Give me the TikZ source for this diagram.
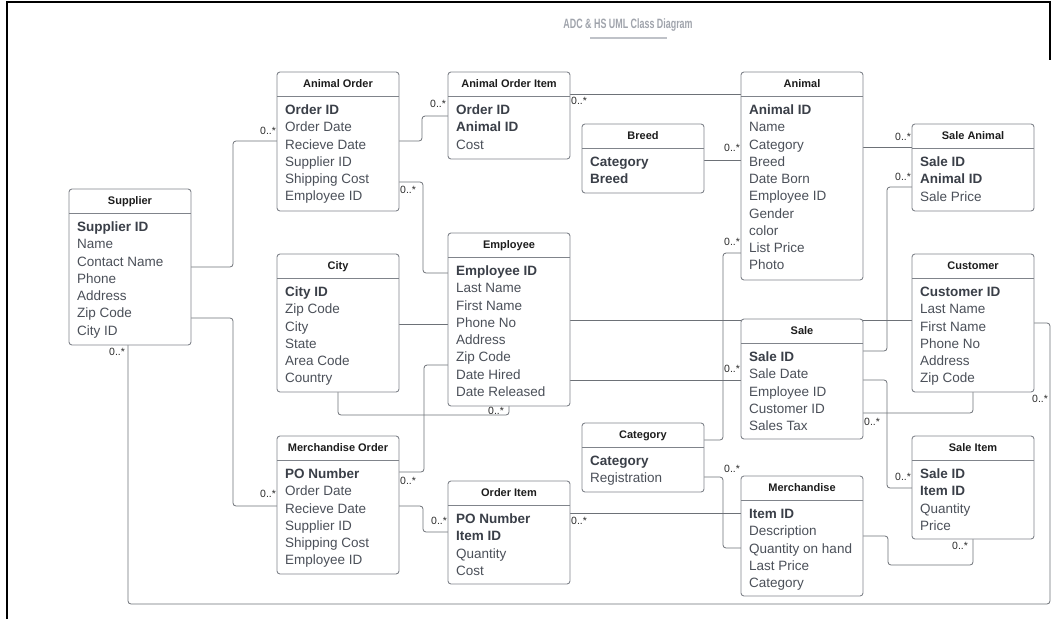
\documentclass[tikz,border=0pt]{standalone}
\usepackage{fontspec}
\setmainfont{Liberation Sans}
\newfontfamily\ttlfont[FakeStretch=0.66]{Liberation Sans}
\pgfdeclarelayer{bg}
\pgfsetlayers{bg,main}
\definecolor{boxc}{HTML}{80848B}
\definecolor{linec}{HTML}{6D7177}
\definecolor{rowc}{HTML}{4B5059}
\definecolor{rowbc}{HTML}{3A3F48}
\definecolor{hdrc}{HTML}{1D1D1D}
\definecolor{titlec}{HTML}{A0A4AC}
\definecolor{ulc}{HTML}{BFC2C8}
\definecolor{lblc}{HTML}{2A2A2A}
\newcommand{\clsB}{\bfseries\color{rowbc}}
\newcommand{\clsN}{}
\newcommand{\umlclass}[7]{%
  \node[classbox, minimum width={(#4-#2)*1pt}, minimum height={(#5-#3)*1pt}, anchor=north west] (#1) at (#2,#3) {};
  \draw[boxline] (#2,#3+24) -- (#4,#3+24);
  \node[hdr] (#1-title) at ({(#2+#4)/2},#3+12) {#6};
  \foreach \st/\tx [count=\i] in {#7} {
    \node[rowtxt] (#1-r\i) at (#2+8,#3+24+18.5+\i*17.25-17.25) {\st\tx};
  }%
}
\begin{document}
\begin{tikzpicture}[x=1pt,y=-1pt,
  classbox/.style={draw=boxc, fill=white, rounded corners=3pt, line width=0.9pt, inner sep=0pt, outer sep=0pt},
  boxline/.style={draw=boxc, line width=0.9pt},
  hdr/.style={font=\bfseries\fontsize{11}{13}\selectfont, text=hdrc, inner sep=0pt, text height=7.9pt, text depth=0pt, anchor=center},
  rowtxt/.style={font=\fontsize{13.5}{16}\selectfont, text=rowc, inner sep=0pt, anchor=base west},
  conn/.style={draw=linec, line width=0.8pt, rounded corners=3pt},
  lbl/.style={font=\fontsize{10.5}{12}\selectfont, text=lblc, inner sep=0pt, text height=7.5pt, text depth=0pt, anchor=west},
  ttl/.style={font=\ttlfont\bfseries\fontsize{13.5}{16}\selectfont, text=titlec, inner sep=0pt, text height=9.7pt, text depth=0pt, anchor=center}
]
\useasboundingbox (0,0) rectangle (1052,619);
% frame
\draw[black, line width=2pt] (7,619) -- (7,2) -- (1050,2) -- (1050,60);
% title
\node[ttl] (title) at (628,24) {ADC \& HS UML Class Diagram};
\coordinate (ul1) at (590,38);
\coordinate (ul2) at (667,38);
\draw[ulc, line width=2.5pt] (ul1) -- (ul2);

\umlclass{sup}{69}{189}{191}{345}{Supplier}{\clsB/Supplier ID,\clsN/Name,\clsN/Contact Name,\clsN/Phone,\clsN/Address,\clsN/Zip Code,\clsN/City ID}
\umlclass{ao}{277}{72}{399}{211}{Animal Order}{\clsB/Order ID,\clsN/Order Date,\clsN/Recieve Date,\clsN/Supplier ID,\clsN/Shipping Cost,\clsN/Employee ID}
\umlclass{aoi}{448}{72}{570}{159}{Animal Order Item}{\clsB/Order ID,\clsB/Animal ID,\clsN/Cost}
\umlclass{br}{582}{124}{704}{193}{Breed}{\clsB/Category,\clsB/Breed}
\umlclass{an}{741}{72}{863}{280}{Animal}{\clsB/Animal ID,\clsN/Name,\clsN/Category,\clsN/Breed,\clsN/Date Born,\clsN/Employee ID,\clsN/Gender,\clsN/color,\clsN/List Price,\clsN/Photo}
\umlclass{sa}{912}{124}{1034}{211}{Sale Animal}{\clsB/Sale ID,\clsB/Animal ID,\clsN/Sale Price}
\umlclass{cus}{912}{254}{1034}{392}{Customer}{\clsB/Customer ID,\clsN/Last Name,\clsN/First Name,\clsN/Phone No,\clsN/Address,\clsN/Zip Code}
\umlclass{emp}{448}{233}{570}{406}{Employee}{\clsB/Employee ID,\clsN/Last Name,\clsN/First Name,\clsN/Phone No,\clsN/Address,\clsN/Zip Code,\clsN/Date Hired,\clsN/Date Released}
\umlclass{city}{277}{254}{399}{392}{City}{\clsB/City ID,\clsN/Zip Code,\clsN/City,\clsN/State,\clsN/Area Code,\clsN/Country}
\umlclass{sale}{741}{319}{863}{439}{Sale}{\clsB/Sale ID,\clsN/Sale Date,\clsN/Employee ID,\clsN/Customer ID,\clsN/Sales Tax}
\umlclass{cat}{582}{423}{704}{492}{Category}{\clsB/Category,\clsN/Registration}
\umlclass{merch}{741}{476}{863}{596}{Merchandise}{\clsB/Item ID,\clsN/Description,\clsN/Quantity on hand,\clsN/Last Price,\clsN/Category}
\umlclass{si}{912}{436}{1034}{539}{Sale Item}{\clsB/Sale ID,\clsB/Item ID,\clsN/Quantity,\clsN/Price}
\umlclass{mo}{277}{436}{399}{574}{Merchandise Order}{\clsB/PO Number,\clsN/Order Date,\clsN/Recieve Date,\clsN/Supplier ID,\clsN/Shipping Cost,\clsN/Employee ID}
\umlclass{oi}{448}{481}{570}{584}{Order Item}{\clsB/PO Number,\clsB/Item ID,\clsN/Quantity,\clsN/Cost}

\begin{pgfonlayer}{bg}
\draw[conn] (sup.east |- 0,267) -- (233,267) |- (ao.west |- 0,141);
\draw[conn] (sup.east |- 0,318) -- (233,318) |- (mo.west |- 0,506);
\draw[conn] (sup.south -| 128,0) -- (128,604) -- (1050,604) |- (cus.east |- 0,323);
\draw[conn] (ao.east |- 0,141) -- (422,141) |- (aoi.west |- 0,116);
\draw[conn] (ao.east |- 0,182) -- (423,182) |- (emp.west |- 0,273);
\draw[conn] (aoi.east |- 0,94) -- (an.west |- 0,94);
\draw[conn] (br.east |- 0,160) -- (an.west |- 0,160);
\draw[conn] (an.east |- 0,147) -- (sa.west |- 0,147);
\draw[conn] (sale.east |- 0,351) -- (887,351) |- (sa.west |- 0,187);
\draw[conn] (emp.east |- 0,320) -- (cus.west |- 0,320);
\draw[conn] (emp.east |- 0,380) -- (sale.west |- 0,380);
\draw[conn] (city.east |- 0,324) -- (emp.west |- 0,324);
\draw[conn] (city.south -| 338,0) -- (338,415) -| (emp.south -| 509,0);
\draw[conn] (mo.east |- 0,472) -- (424,472) |- (emp.west |- 0,365);
\draw[conn] (mo.east |- 0,506) -- (423,506) |- (oi.west |- 0,532);
\draw[conn] (oi.east |- 0,513) -- (merch.west |- 0,513);
\draw[conn] (cat.east |- 0,440) -- (723,440) |- (an.west |- 0,253);
\draw[conn] (cat.east |- 0,477) -- (723,477) |- (merch.west |- 0,548);
\draw[conn] (sale.east |- 0,413) -| (cus.south -| 973,0);
\draw[conn] (sale.east |- 0,380) -- (887,380) |- (si.west |- 0,488);
\draw[conn] (merch.east |- 0,536) -- (888,536) -- (888,565) -| (si.south -| 973,0);
\end{pgfonlayer}

% multiplicity labels
\node[lbl] (l1) at (260,131) {0..*};
\node[lbl] (l2) at (109,352) {0..*};
\node[lbl] (l3) at (260,494) {0..*};
\node[lbl] (l4) at (430,104) {0..*};
\node[lbl] (l5) at (400,190) {0..*};
\node[lbl] (l6) at (571,101) {0..*};
\node[lbl] (l7) at (724,148) {0..*};
\node[lbl] (l8) at (895,137) {0..*};
\node[lbl] (l9) at (895,177) {0..*};
\node[lbl] (l10) at (724,242) {0..*};
\node[lbl] (l11) at (488,411) {0..*};
\node[lbl] (l12) at (724,369) {0..*};
\node[lbl] (l13) at (864,422) {0..*};
\node[lbl] (l14) at (1032,399) {0..*};
\node[lbl] (l15) at (895,477) {0..*};
\node[lbl] (l16) at (400,481) {0..*};
\node[lbl] (l17) at (431,521) {0..*};
\node[lbl] (l18) at (571,521) {0..*};
\node[lbl] (l19) at (724,469) {0..*};
\node[lbl] (l20) at (952,546) {0..*};
\end{tikzpicture}
\end{document}
